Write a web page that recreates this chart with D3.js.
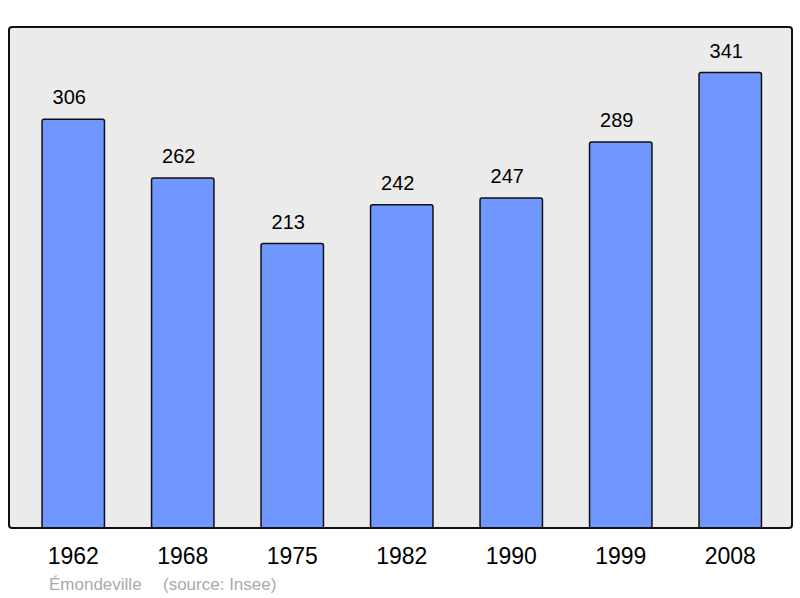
<!DOCTYPE html>
<html>
<head>
<meta charset="utf-8">
<script src="https://cdn.jsdelivr.net/npm/d3@7"></script>
<style>
  body { margin: 0; background: #fff; }
  svg { display: block; font-family: "Liberation Sans", Arial, sans-serif; }
</style>
</head>
<body>
<div id="chart"></div>
<script>
const years = ["1962", "1968", "1975", "1982", "1990", "1999", "2008"];
const population = [306, 262, 213, 242, 247, 289, 341];
const commune = "Émondeville";
const source = "(source: Insee)";

const svg = d3
  .select("#chart")
  .append("svg")
  .attr("width", 800)
  .attr("height", 598);

const frame = { left: 9, top: 27, right: 792, bottom: 528 };

const xScale = d3
  .scaleBand()
  .domain(years)
  .range([18.5, 785])
  .paddingInner(0.43)
  .paddingOuter(0.215);

const yScale = d3
  .scaleLinear()
  .domain([0, d3.max(population) * 1.1])
  .range([frame.bottom, frame.top]);

// background panel
svg.append("rect")
  .attr("x", frame.left)
  .attr("y", frame.top)
  .attr("width", frame.right - frame.left)
  .attr("height", frame.bottom - frame.top)
  .attr("rx", 3)
  .attr("fill", "#ebebeb");

const data = years.map((y, i) => ({ year: y, value: population[i] }));

svg.selectAll(".bar")
  .data(data)
  .join("rect")
  .attr("class", "bar")
  .attr("x", d => xScale(d.year))
  .attr("y", d => yScale(d.value))
  .attr("width", xScale.bandwidth())
  .attr("height", d => yScale(0) - yScale(d.value))
  .attr("rx", 2)
  .attr("fill", "#7096ff")
  .attr("stroke", "#111")
  .attr("stroke-width", 1.5);

// frame border on top of the bars
svg.append("rect")
  .attr("x", frame.left)
  .attr("y", frame.top)
  .attr("width", frame.right - frame.left)
  .attr("height", frame.bottom - frame.top)
  .attr("rx", 3)
  .attr("fill", "none")
  .attr("stroke", "#111")
  .attr("stroke-width", 2);

svg.selectAll(".value")
  .data(data)
  .join("text")
  .attr("class", "value")
  .attr("x", d => xScale(d.year) + xScale.bandwidth() / 2 - 4)
  .attr("y", d => yScale(d.value) - 15)
  .attr("text-anchor", "middle")
  .attr("font-size", 20)
  .attr("fill", "#000")
  .text(d => d.value);

// x axis labels
const xAxis = svg.append("g")
  .attr("transform", `translate(0,${frame.bottom})`)
  .call(d3.axisBottom(xScale).tickSize(0).tickPadding(20));
xAxis.select(".domain").remove();
xAxis.selectAll("text")
  .attr("font-size", 23)
  .attr("font-family", "Liberation Sans, Arial, sans-serif")
  .attr("fill", "#000");

svg.append("text")
  .attr("x", 49)
  .attr("y", 590)
  .attr("font-size", 17)
  .attr("fill", "#aaa")
  .text(commune);

svg.append("text")
  .attr("x", 163)
  .attr("y", 590)
  .attr("font-size", 17)
  .attr("fill", "#aaa")
  .text(source);
</script>
</body>
</html>
